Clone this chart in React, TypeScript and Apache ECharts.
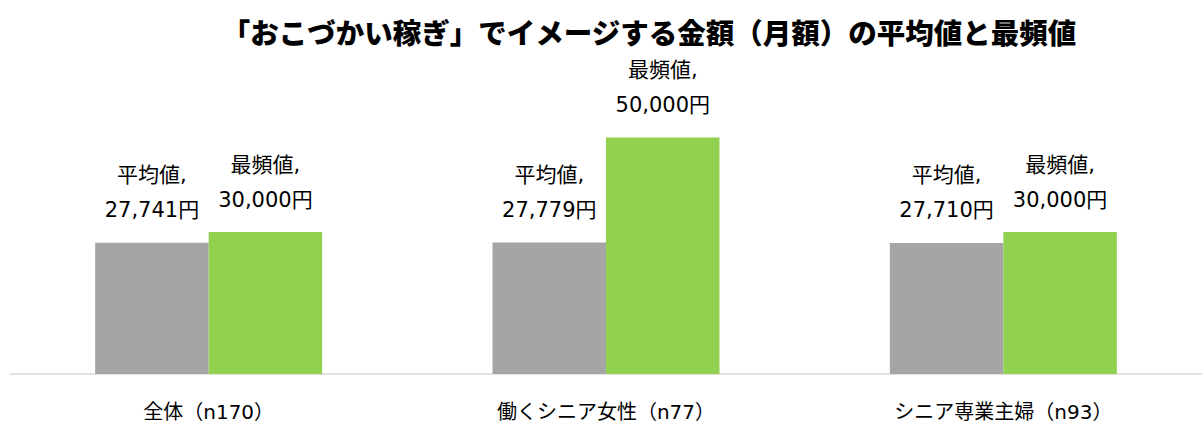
import React, { useEffect, useRef } from "react";
import * as echarts from "echarts";

const categories = ["全体（n170）", "働くシニア女性（n77）", "シニア専業主婦（n93）"];
const meanValues = [27741, 27779, 27710];
const modeValues = [30000, 50000, 30000];
const seriesNames = ["平均値", "最頻値"];
const titleText = "「おこづかい稼ぎ」でイメージする金額（月額）の平均値と最頻値";

const fmt = (v: number) => v.toLocaleString("en-US") + "円";

export default function App() {
  const ref = useRef<HTMLDivElement>(null);
  useEffect(() => {
    if (!ref.current) return;
    const chart = echarts.init(ref.current, null, { renderer: "svg" });
    const font = "'DejaVu Sans', 'Noto Sans CJK JP', sans-serif";
    const labelStyle = {
      show: true,
      position: "top" as const,
      distance: 15,
      color: "#000000",
      fontSize: 21,
      lineHeight: 35,
      fontFamily: font,
    };
    chart.setOption({
      animation: false,
      title: {
        text: titleText,
        left: 644,
        textAlign: "center",
        top: 12,
        textStyle: { fontSize: 28.5, fontWeight: 900, color: "#000000", fontFamily: "'Noto Sans CJK JP', sans-serif" },
      },
      grid: { left: 10, right: 0, top: 137.5, bottom: 51, containLabel: false },
      xAxis: {
        type: "category",
        data: categories,
        axisLine: { show: true, lineStyle: { color: "#D9D9D9", width: 1.5 } },
        axisTick: { show: false },
        axisLabel: { color: "#000000", fontSize: 20, fontFamily: font, margin: 28 },
      },
      yAxis: {
        type: "value",
        min: 0,
        max: 50000,
        show: false,
        splitLine: { show: false },
      },
      series: [
        {
          name: seriesNames[0],
          type: "bar",
          data: meanValues,
          barWidth: 113.5,
          barGap: "0%",
          itemStyle: { color: "#A5A5A5" },
          label: { ...labelStyle, formatter: (p: any) => `${seriesNames[0]},\n${fmt(p.value)}` },
        },
        {
          name: seriesNames[1],
          type: "bar",
          data: modeValues,
          barWidth: 113.5,
          barGap: "0%",
          itemStyle: { color: "#92D050" },
          label: { ...labelStyle, formatter: (p: any) => `${seriesNames[1]},\n${fmt(p.value)}` },
        },
      ],
    });
    return () => chart.dispose();
  }, []);
  return (
    <div
      ref={ref}
      style={{ position: "absolute", left: 0, top: 0, width: 1202, height: 425, background: "#fff" }}
    />
  );
}
